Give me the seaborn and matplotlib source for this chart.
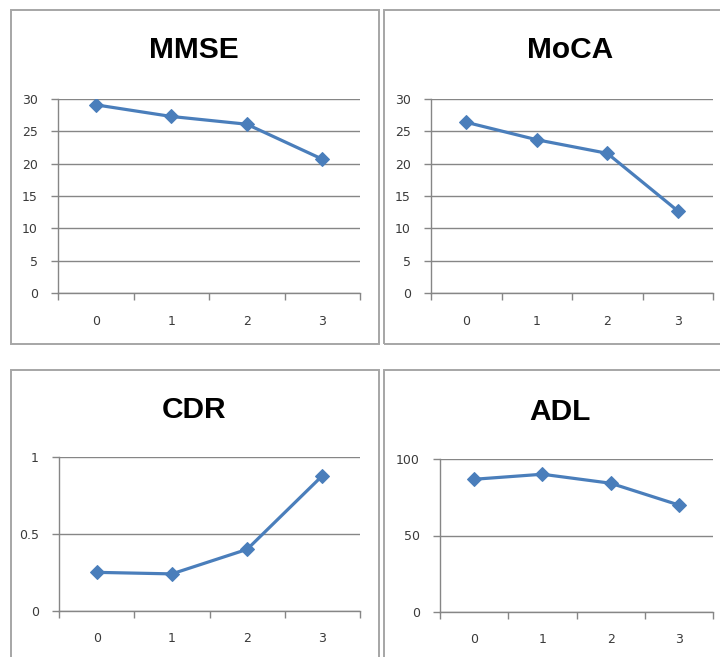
import matplotlib
matplotlib.use("Agg")
import matplotlib.pyplot as plt
import seaborn as sns
import pandas as pd
from matplotlib.patches import Rectangle

# ---- data ----
groups = [0, 1, 2, 3]
mmse = [29.1, 27.3, 26.1, 20.7]
moca = [26.4, 23.7, 21.6, 12.7]
cdr = [0.25, 0.24, 0.40, 0.88]
adl = [86.9, 90.2, 84.3, 70.0]
titles = ["MMSE", "MoCA", "CDR", "ADL"]

sns.set_theme(style="white")
plt.rcParams['font.family'] = ['DejaVu Sans']

W, H = 720, 657
fig = plt.figure(figsize=(W / 100, H / 100), dpi=100)
fig.patch.set_facecolor("white")

LINE = "#4a7ebb"
GRID = "#868686"
BORDER = "#a6a6a6"
TICKCOL = "#3a3a3a"

def px_axes(l, r, t, b):
    return fig.add_axes([l / W, 1 - b / H, (r - l) / W, (b - t) / H])

def border(l, t, r, b):
    fig.patches.append(Rectangle((l / W, 1 - b / H), (r - l) / W, (b - t) / H,
                                 transform=fig.transFigure, fill=False,
                                 edgecolor=BORDER, linewidth=1.4, zorder=0))

panels = [
    dict(vals=mmse, title=titles[0], box=(11, 10, 378.5, 344), ax=(58, 360, 99, 293),
         ylim=(0, 30), yticks=[0, 5, 10, 15, 20, 25, 30], ylabels=None, tx=194, ty=50),
    dict(vals=moca, title=titles[1], box=(384, 10, 730, 344), ax=(431, 713, 99, 293),
         ylim=(0, 30), yticks=[0, 5, 10, 15, 20, 25, 30], ylabels=None, tx=570, ty=50),
    dict(vals=cdr, title=titles[2], box=(11, 370, 378.5, 700), ax=(59, 360, 457.3, 610.7),
         ylim=(0, 1), yticks=[0, 0.5, 1], ylabels=["0", "0.5", "1"], tx=194, ty=410),
    dict(vals=adl, title=titles[3], box=(384, 370, 730, 700), ax=(440, 713, 459.3, 611.7),
         ylim=(0, 100), yticks=[0, 50, 100], ylabels=None, tx=560, ty=412),
]

for p in panels:
    border(*p["box"])
    l, r, t, b = p["ax"]
    ax = px_axes(l, r, t, b)
    df = pd.DataFrame({"group": groups, "value": p["vals"]})
    sns.lineplot(data=df, x="group", y="value", ax=ax, color=LINE, linewidth=2.3,
                 marker="D", markersize=7, markeredgecolor=LINE, zorder=5)
    ax.set_xlim(-0.5, 3.5)
    ax.set_ylim(*p["ylim"])
    ax.set_yticks(p["yticks"])
    if p["ylabels"]:
        ax.set_yticklabels(p["ylabels"])
    ax.set_xticks(groups)
    ax.set_xticklabels([str(g) for g in groups])
    ax.set_xticks([-0.5, 0.5, 1.5, 2.5, 3.5], minor=True)
    ax.tick_params(axis="x", which="major", length=0, pad=15.5, labelsize=9,
                   labelcolor=TICKCOL)
    ax.tick_params(axis="x", which="minor", length=5, width=1, color=GRID, direction="out", bottom=True)
    ax.tick_params(axis="y", which="major", length=5, width=1, color=GRID, direction="out",
                   left=True, pad=9.5, labelsize=9, labelcolor=TICKCOL)
    ax.yaxis.grid(True, color=GRID, linewidth=1)
    ax.set_axisbelow(True)
    for s in ["top", "right"]:
        ax.spines[s].set_visible(False)
    for s in ["left", "bottom"]:
        ax.spines[s].set_color(GRID)
        ax.spines[s].set_linewidth(1)
    ax.set_xlabel("")
    ax.set_ylabel("")
    ax.set_facecolor("none")
    ax.patch.set_alpha(0)
    fig.text(p["tx"] / W, 1 - p["ty"] / H, p["title"], ha="center", va="center",
             fontsize=21.5, fontweight="bold", color="black",
             family=["Liberation Sans", "DejaVu Sans"])

fig.savefig("out.png", dpi=100, facecolor="white")
